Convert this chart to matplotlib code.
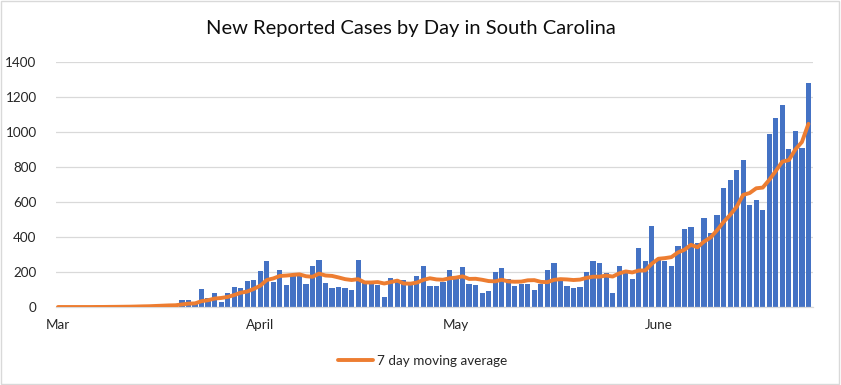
import numpy as np
import pandas as pd
import matplotlib
matplotlib.use('Agg')
import matplotlib.pyplot as plt
from matplotlib.patches import Rectangle

# new reported cases per day, Mar 1 .. Jun 24
cases = [0, 0, 0, 0, 0, 0, 2, 0, 3, 2,
         3, 3, 6, 9, 5, 14, 13, 14, 8, 40,
         40, 15, 104, 50, 81, 31, 81, 115, 110, 150,
         156, 208, 260, 144, 213, 127, 176, 178, 133, 237,
         271, 138, 110, 115, 110, 98, 271, 140, 136, 127,
         58, 167, 156, 156, 133, 179, 237, 121, 121, 144,
         213, 160, 231, 133, 127, 81, 92, 202, 225, 162,
         121, 133, 133, 98, 133, 213, 254, 150, 121, 110,
         115, 202, 260, 254, 196, 81, 237, 192, 162, 336,
         260, 462, 280, 262, 233, 348, 445, 456, 365, 508,
         422, 525, 680, 726, 783, 840, 583, 611, 554, 989,
         1081, 1156, 903, 1006, 909, 1282]
start_date = '2020-03-01'
month_names = {3: 'Mar', 4: 'April', 5: 'May', 6: 'June'}
title = 'New Reported Cases by Day in South Carolina'
legend_label = '7 day moving average'

dni = pd.date_range(start_date, periods=len(cases))
x = np.arange(len(cases))
srednia = pd.Series(cases).rolling(7, min_periods=1).mean()

fig = plt.figure(figsize=(8.41, 3.85), dpi=100)
plt.rcParams['font.family'] = ['Lato', 'DejaVu Sans']
ax = fig.add_axes([0.0666, 0.2026, 0.9001, 0.6364])

ax.bar(x, cases, width=0.8, color='#4472C4', zorder=2)
ax.plot(x, srednia, color='#ED7D31', linewidth=2.8, solid_capstyle='round',
        zorder=3, label=legend_label)

ax.set_xlim(-0.3, 115.7)
ax.set_ylim(0, 1400)
ax.set_yticks(range(0, 1401, 200))
ax.yaxis.grid(True, color='#D9D9D9', linewidth=0.9, zorder=0)
ax.set_axisbelow(True)
for s in ['top', 'right', 'left']:
    ax.spines[s].set_visible(False)
ax.spines['bottom'].set_color('#D9D9D9')
ax.spines['bottom'].set_linewidth(0.9)

pozycje = [i for i, d in enumerate(dni) if d.day == 1]
ax.set_xticks(pozycje)
ax.set_xticklabels([month_names[dni[i].month] for i in pozycje])
ax.tick_params(axis='both', length=0, labelsize=9.7, colors='#262626')
ax.tick_params(axis='y', pad=14)
ax.tick_params(axis='x', pad=9)

fig.text(0.489, 0.927, title, ha='center', va='center', fontsize=14.5, color='#0D0D0D')

fig.legend(loc='center', bbox_to_anchor=(0.503, 0.062), frameon=False,
           fontsize=9.7, handlelength=2.6, handletextpad=0.3, labelcolor='#262626')

fig.patches.append(Rectangle((0.001, 0.002), 0.997, 0.995, transform=fig.transFigure,
                             fill=False, edgecolor='#D9D9D9', linewidth=1))

plt.savefig('out.png', dpi=100)
